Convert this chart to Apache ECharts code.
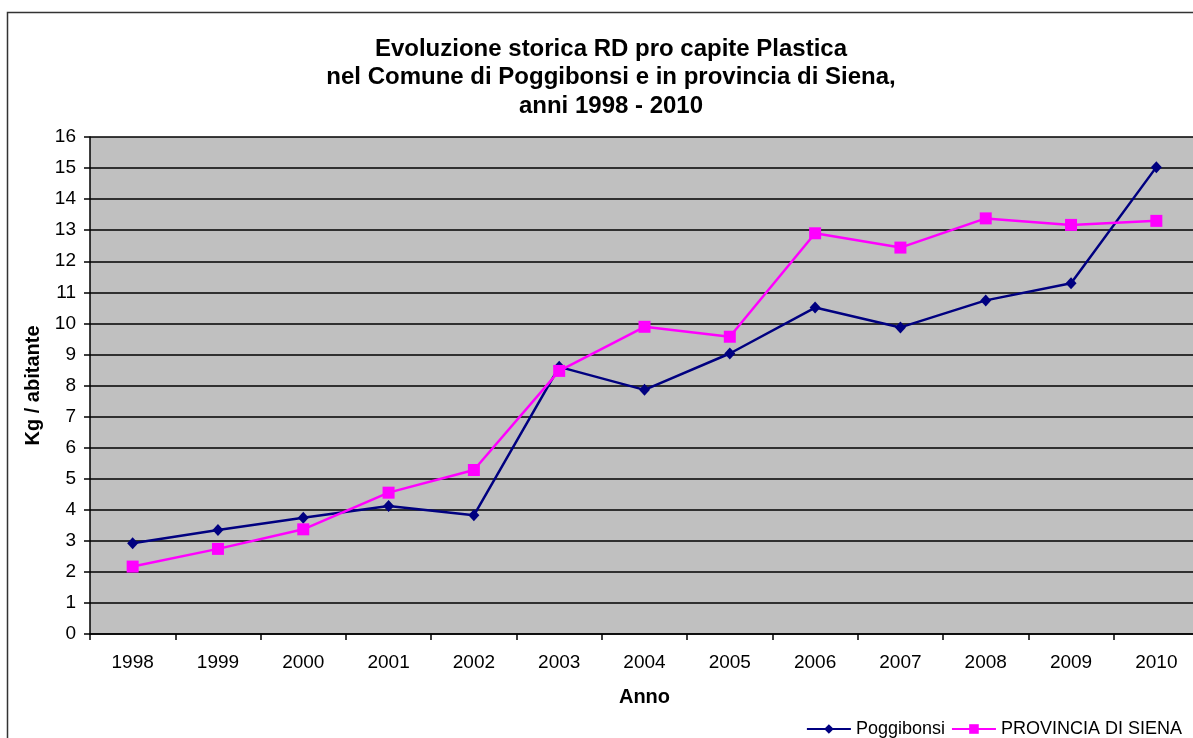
<!DOCTYPE html>
<html>
<head>
<meta charset="utf-8">
<script src="https://cdn.jsdelivr.net/npm/echarts@6/dist/echarts.min.js"></script>
<style>
  html, body { margin: 0; padding: 0; background: #fff; }
  #chart { width: 1193px; height: 738px; }
</style>
</head>
<body>
<div id="chart"></div>
<script>
const years = ['1998', '1999', '2000', '2001', '2002', '2003', '2004', '2005', '2006', '2007', '2008', '2009', '2010']
const poggibonsi = [2.92, 3.35, 3.74, 4.12, 3.82, 8.6, 7.86, 9.03, 10.51, 9.87, 10.74, 11.29, 15.03]
const provinciaSiena = [2.17, 2.74, 3.37, 4.55, 5.28, 8.47, 9.89, 9.57, 12.9, 12.44, 13.38, 13.17, 13.3]

const font = 'Liberation Sans, Arial, sans-serif'
const chart = echarts.init(document.getElementById('chart'))

chart.setOption({
  backgroundColor: '#fff',
  animation: false,
  title: {
    text: 'Evoluzione storica RD pro capite Plastica\nnel Comune di Poggibonsi e in provincia di Siena,\nanni 1998 - 2010',
    left: 606,
    textAlign: 'center',
    top: 30,
    textStyle: {
      fontFamily: font,
      fontSize: 24,
      fontWeight: 'bold',
      color: '#000',
      lineHeight: 28.5
    }
  },
  graphic: [
    {
      type: 'rect',
      shape: { x: 7.5, y: 12.5, width: 1300, height: 900 },
      style: { fill: 'none', stroke: '#333', lineWidth: 1.5 },
      silent: true,
      z: -1
    }
  ],
  legend: {
    right: 6,
    top: 715,
    itemWidth: 44,
    itemHeight: 12,
    itemGap: 6,
    textStyle: { fontFamily: font, fontSize: 18, color: '#000' },
    data: ['Poggibonsi', 'PROVINCIA DI SIENA']
  },
  grid: {
    left: 90,
    top: 137,
    width: 1109,
    bottom: 104,
    outerBoundsMode: 'none',
    show: true,
    backgroundColor: '#c0c0c0',
    borderWidth: 0
  },
  xAxis: {
    type: 'category',
    data: years,
    boundaryGap: true,
    name: 'Anno',
    nameLocation: 'middle',
    nameGap: 53,
    nameTextStyle: { fontFamily: font, fontSize: 20, fontWeight: 'bold', color: '#000' },
    axisLine: { lineStyle: { color: '#000', width: 1.5 } },
    axisTick: { show: true, length: 6, lineStyle: { color: '#000', width: 1.5 } },
    axisLabel: { fontFamily: font, fontSize: 19, color: '#000', margin: 19 },
    splitLine: { show: false }
  },
  yAxis: {
    type: 'value',
    min: 0,
    max: 16,
    interval: 1,
    name: 'Kg / abitante',
    nameLocation: 'middle',
    nameRotate: 90,
    nameGap: 46,
    nameTextStyle: { fontFamily: font, fontSize: 20, fontWeight: 'bold', color: '#000' },
    axisLine: { show: true, lineStyle: { color: '#000', width: 1.5 } },
    axisTick: { show: true, length: 6, lineStyle: { color: '#000', width: 1.5 } },
    axisLabel: { fontFamily: font, fontSize: 19, color: '#000', margin: 14 },
    splitLine: { show: true, lineStyle: { color: '#000', width: 1.5 } }
  },
  series: [
    {
      name: 'Poggibonsi',
      type: 'line',
      data: poggibonsi,
      symbol: 'diamond',
      symbolSize: [11, 12],
      color: '#000080',
      lineStyle: { color: '#000080', width: 2.5 },
      itemStyle: { color: '#000080' },
      z: 3
    },
    {
      name: 'PROVINCIA DI SIENA',
      type: 'line',
      data: provinciaSiena,
      symbol: 'rect',
      symbolSize: 12,
      color: '#ff00ff',
      lineStyle: { color: '#ff00ff', width: 2.5 },
      itemStyle: { color: '#ff00ff' },
      z: 4
    }
  ]
})
</script>
</body>
</html>
